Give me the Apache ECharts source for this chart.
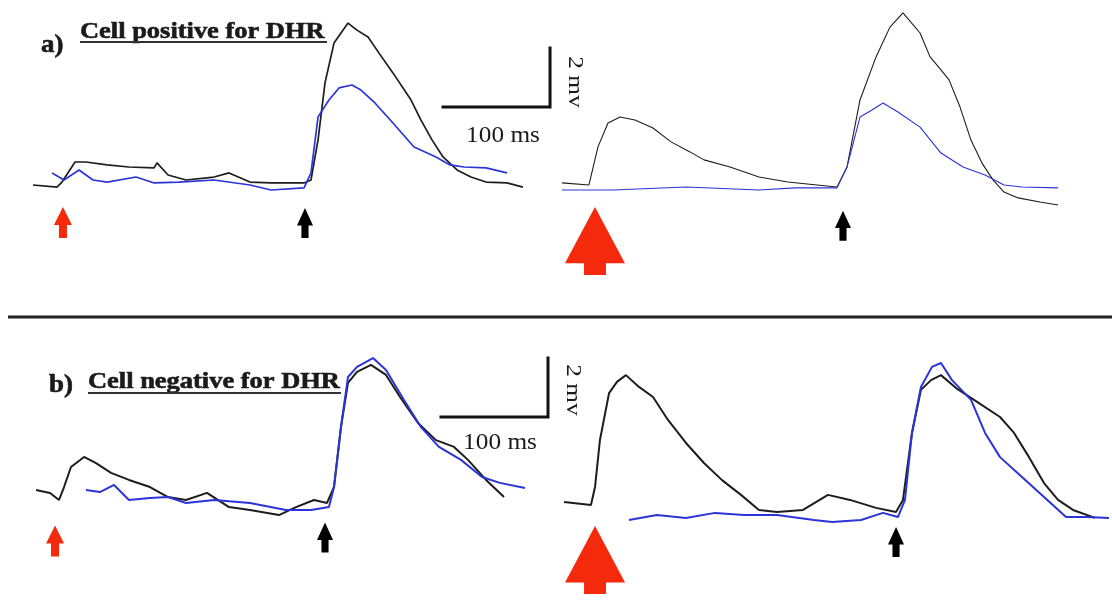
<!DOCTYPE html>
<html>
<head>
<meta charset="utf-8">
<title>DHR traces</title>
<script src="https://cdn.jsdelivr.net/npm/echarts@6/dist/echarts.min.js"></script>
<style>
  html, body { margin: 0; padding: 0; background: #fff; }
  #chart { width: 1112px; height: 610px; }
</style>
</head>
<body>
<div id="chart"></div>
<script>
// traces: [time (ms), voltage (mV, from baseline)]
var posLeftBlack = [[0,0],[22.4,-0.07],[27.1,0.10],[39.3,0.78],[49.5,0.78],[69.2,0.68],[89.7,0.61],[113.1,0.58],[115.9,0.75],[126.2,0.34],[143,0.17],[169.2,0.27],[183.2,0.41],[202.8,0.10],[222.4,0.07],[253.3,0.07],[259.8,0.17],[266.4,1.53],[272.9,3.46],[281.3,4.81],[294.4,5.49],[302.8,5.25],[313.1,5.02],[323.4,4.47],[336.4,3.80],[353.3,2.88],[362.6,2.20],[372.9,1.53],[383.2,0.95],[396.3,0.51],[409.3,0.27],[423.4,0.10],[443,0.07],[457.9,-0.07]];
var posLeftBlue = [[17.8,0.41],[24.3,0.27],[29,0.17],[43,0.51],[56.1,0.17],[69.2,0.10],[96.3,0.27],[113.1,0.07],[136.4,0.10],[169.2,0.17],[202.8,0],[222.4,-0.17],[253.3,-0.10],[259.8,0.41],[266.4,2.31],[276.6,2.88],[286,3.29],[298.1,3.39],[306.5,3.22],[319.6,2.78],[336.4,2.10],[356.1,1.29],[376.6,0.95],[389.7,0.68],[402.8,0.61],[423.4,0.58],[443,0.41]];

var posRightBlack = [[0,0.14],[25.2,0.07],[33.6,1.36],[43,2.17],[54.2,2.37],[68.2,2.27],[85,2.0],[101.9,1.53],[119.6,1.19],[132.7,0.92],[157,0.68],[184.1,0.34],[211.2,0.17],[238.3,0.07],[257,0],[266.4,0.68],[278.5,2.95],[293.5,4.41],[306.5,5.42],[318.7,5.9],[334.6,5.22],[344,4.41],[354.2,3.97],[361.7,3.63],[372,2.71],[382.2,1.59],[392.5,0.81],[402.8,0.24],[413.1,-0.17],[426.2,-0.37],[446.7,-0.51],[463.6,-0.61]];
var posRightBlue = [[0,-0.1],[47.7,-0.1],[115.9,0],[184.1,-0.1],[217.8,-0.03],[257,-0.03],[266.4,0.68],[272.9,1.59],[278.5,2.37],[289.7,2.61],[300,2.85],[314,2.54],[334.6,2.03],[354.2,1.15],[374.8,0.68],[395.3,0.41],[413.1,0.07],[429.9,0],[463.6,-0.03]];

var negLeftBlack = [[0,0.34],[13.1,0.24],[21.5,0],[26.2,0.44],[32.7,1.12],[44.9,1.46],[56.1,1.25],[70.1,0.92],[86.9,0.68],[106.5,0.44],[123.4,0.10],[140.2,0],[159.8,0.24],[180.4,-0.24],[200,-0.34],[227.1,-0.51],[243,-0.24],[259.8,0],[272,-0.10],[278.5,0.44],[285,2.47],[291.6,3.97],[300,4.34],[313.1,4.58],[327.1,4.24],[340.2,3.49],[357,2.61],[373.8,2.03],[390.7,1.80],[403.7,1.36],[420.6,0.68],[437.4,0.10]];
var negLeftBlue = [[46.7,0.34],[59.8,0.27],[72.9,0.51],[86.9,0],[106.5,0.07],[123.4,0.10],[140.2,-0.10],[166.4,0],[200,-0.10],[233.6,-0.34],[257,-0.34],[273.8,-0.24],[278.5,0.44],[285,2.47],[291.6,4.17],[300,4.51],[315,4.81],[327.1,4.41],[343.9,3.39],[359.8,2.47],[376.6,1.80],[397.2,1.36],[416.8,0.78],[433.6,0.58],[457,0.41]];

var negRightBlack = [[0,0.34],[25.2,0.24],[29,0.85],[33.6,2.44],[42.1,4.03],[49.5,4.41],[57.9,4.64],[70.1,4.24],[83.2,3.90],[97.2,3.12],[114,2.34],[130.8,1.66],[147.7,1.08],[165.4,0.58],[182.2,0.07],[199.1,0],[223.4,0.07],[246.7,0.58],[267.3,0.41],[291.6,0.14],[310.3,0],[316.8,0.41],[325.2,2.68],[333.6,4.14],[343,4.47],[352.3,4.64],[366.4,4.20],[383.2,3.80],[407.5,3.22],[420.6,2.68],[434.6,1.86],[448.6,0.98],[461.7,0.41],[475.7,0.07],[496.3,-0.20]];
var negRightBlue = [[60.7,-0.27],[86.9,-0.10],[114,-0.20],[141.1,-0.03],[168.2,-0.10],[199.1,-0.10],[233.6,-0.27],[250.5,-0.34],[277.6,-0.27],[298.1,-0.03],[312.1,-0.17],[318.7,0.41],[325.2,2.68],[333.6,4.24],[343.9,4.92],[352.3,5.05],[362.6,4.47],[380.4,3.80],[393.5,2.68],[407.5,1.86],[428,1.19],[448.6,0.51],[469.2,-0.17],[488.8,-0.17],[509.3,-0.20]];

// stimulus arrows, one per panel (time, mV)
var redArrowAt = [[28.0,-1.27],[30.8,-1.83],[17.8,-1.39],[29.0,-1.63]];
var blackArrowAt = [[254.2,-1.29],[262.6,-1.31],[270.1,-1.27],[310.3,-1.02]];

// scale bars: 100 ms x 2 mV, corner origin in panel units
var SCALE_MS = 100, SCALE_MV = 2;
var scaleOriginA = [383.2, 2.64];
var scaleOriginB = [378.5, 2.81];

// ---
// layout
var PX_MS = 1.07, PX_MV = 29.5;
var panels = [
    {x0: 33,  y0: 185, tmax: 500, vmax: 6.2, vmin: -2.4, black: posLeftBlack,  blue: posLeftBlue,  big: false, lw: 1.7},
    {x0: 562, y0: 187, tmax: 500, vmax: 6.2, vmin: -3.2, black: posRightBlack, blue: posRightBlue, big: true,  lw: 1.1},
    {x0: 36,  y0: 500, tmax: 500, vmax: 5.6, vmin: -2.2, black: negLeftBlack,  blue: negLeftBlue,  big: false, lw: 2},
    {x0: 564, y0: 512, tmax: 512, vmax: 5.6, vmin: -3.2, black: negRightBlack, blue: negRightBlue, big: true,  lw: 2}
];

var BLACK = '#1d1d1d', BLUE = '#2b34d6', RED = '#f5290c';
var SERIF = '"Liberation Serif", "Times New Roman", serif';
var smallArrow = 'path://M9,0L18,18L13,18L13,31L5,31L5,18L0,18Z';
var bigArrow = 'path://M30,0L60,58L41,58L41,70L19,70L19,58L0,58Z';

var grids = [], xAxes = [], yAxes = [], series = [];
panels.forEach(function (p, i) {
    grids.push({
        left: p.x0,
        top: p.y0 - p.vmax * PX_MV,
        width: p.tmax * PX_MS,
        height: (p.vmax - p.vmin) * PX_MV,
        outerBoundsMode: 'none'
    });
    xAxes.push({type: 'value', gridIndex: i, min: 0, max: p.tmax, show: false});
    yAxes.push({type: 'value', gridIndex: i, min: p.vmin, max: p.vmax, show: false});
    series.push({
        type: 'line', xAxisIndex: i, yAxisIndex: i, data: p.black,
        showSymbol: false, silent: true, clip: false,
        lineStyle: {color: BLACK, width: p.lw},
        markPoint: {
            silent: true,
            label: {show: false},
            data: [
                {coord: redArrowAt[i], symbol: p.big ? bigArrow : smallArrow,
                 symbolSize: p.big ? [60, 68] : [18, 31], itemStyle: {color: RED}},
                {coord: blackArrowAt[i], symbol: smallArrow,
                 symbolSize: [16, 30], itemStyle: {color: '#000'}}
            ]
        }
    });
    series.push({
        type: 'line', xAxisIndex: i, yAxisIndex: i, data: p.blue,
        showSymbol: false, silent: true, clip: false,
        lineStyle: {color: BLUE, width: p.lw}
    });
});

function scaleBar(origin, gi) {
    return {
        type: 'line', xAxisIndex: gi, yAxisIndex: gi, showSymbol: false, silent: true, clip: false,
        data: [[origin[0], origin[1]], [origin[0] + SCALE_MS, origin[1]], [origin[0] + SCALE_MS, origin[1] + SCALE_MV]],
        lineStyle: {color: '#111', width: 3, cap: 'square', join: 'miter'}
    };
}
series.push(scaleBar(scaleOriginA, 0));
series.push(scaleBar(scaleOriginB, 2));

function label(text, x, y, size, bold, opts) {
    opts = opts || {};
    return {
        type: 'text', x: x, y: y, rotation: opts.rotation || 0,
        scaleX: opts.sx || 1, silent: true,
        style: {
            text: text, fill: '#1a1a1a',
            stroke: bold ? '#1a1a1a' : null, lineWidth: bold ? 0.6 : 0,
            font: (bold ? 'bold ' : '') + size + 'px ' + SERIF,
            textAlign: opts.align || 'left', align: opts.align || 'left',
            textVerticalAlign: 'middle', verticalAlign: 'middle'
        }
    };
}

var graphics = [
    label('a)', 41, 46, 25, true, {sx: 1.08}),
    label('Cell positive for DHR', 80, 32, 23, true, {sx: 1.15}),
    {type: 'line', silent: true, shape: {x1: 80, y1: 42, x2: 327, y2: 42}, style: {stroke: '#333', lineWidth: 1.8}},
    label('100 ms', 503, 136, 23, false, {align: 'center', sx: 1.1}),
    label('2 mv', 575, 82, 22, false, {align: 'center', rotation: -Math.PI / 2, sx: 1.15}),
    {type: 'line', silent: true, shape: {x1: 8, y1: 317, x2: 1112, y2: 317}, style: {stroke: '#222', lineWidth: 3}},
    label('b)', 49, 386, 25, true, {sx: 1.08}),
    label('Cell negative for DHR', 88, 382, 23, true, {sx: 1.15}),
    {type: 'line', silent: true, shape: {x1: 88, y1: 393, x2: 341, y2: 393}, style: {stroke: '#333', lineWidth: 1.8}},
    label('100 ms', 500, 443, 23, false, {align: 'center', sx: 1.1}),
    label('2 mv', 573, 390, 22, false, {align: 'center', rotation: -Math.PI / 2, sx: 1.15})
];

var chart = echarts.init(document.getElementById('chart'), null, {renderer: 'canvas'});
chart.setOption({
    animation: false,
    backgroundColor: '#fff',
    grid: grids,
    xAxis: xAxes,
    yAxis: yAxes,
    series: series,
    graphic: graphics
});
window.addEventListener('resize', chart.resize, false);
</script>
</body>
</html>
